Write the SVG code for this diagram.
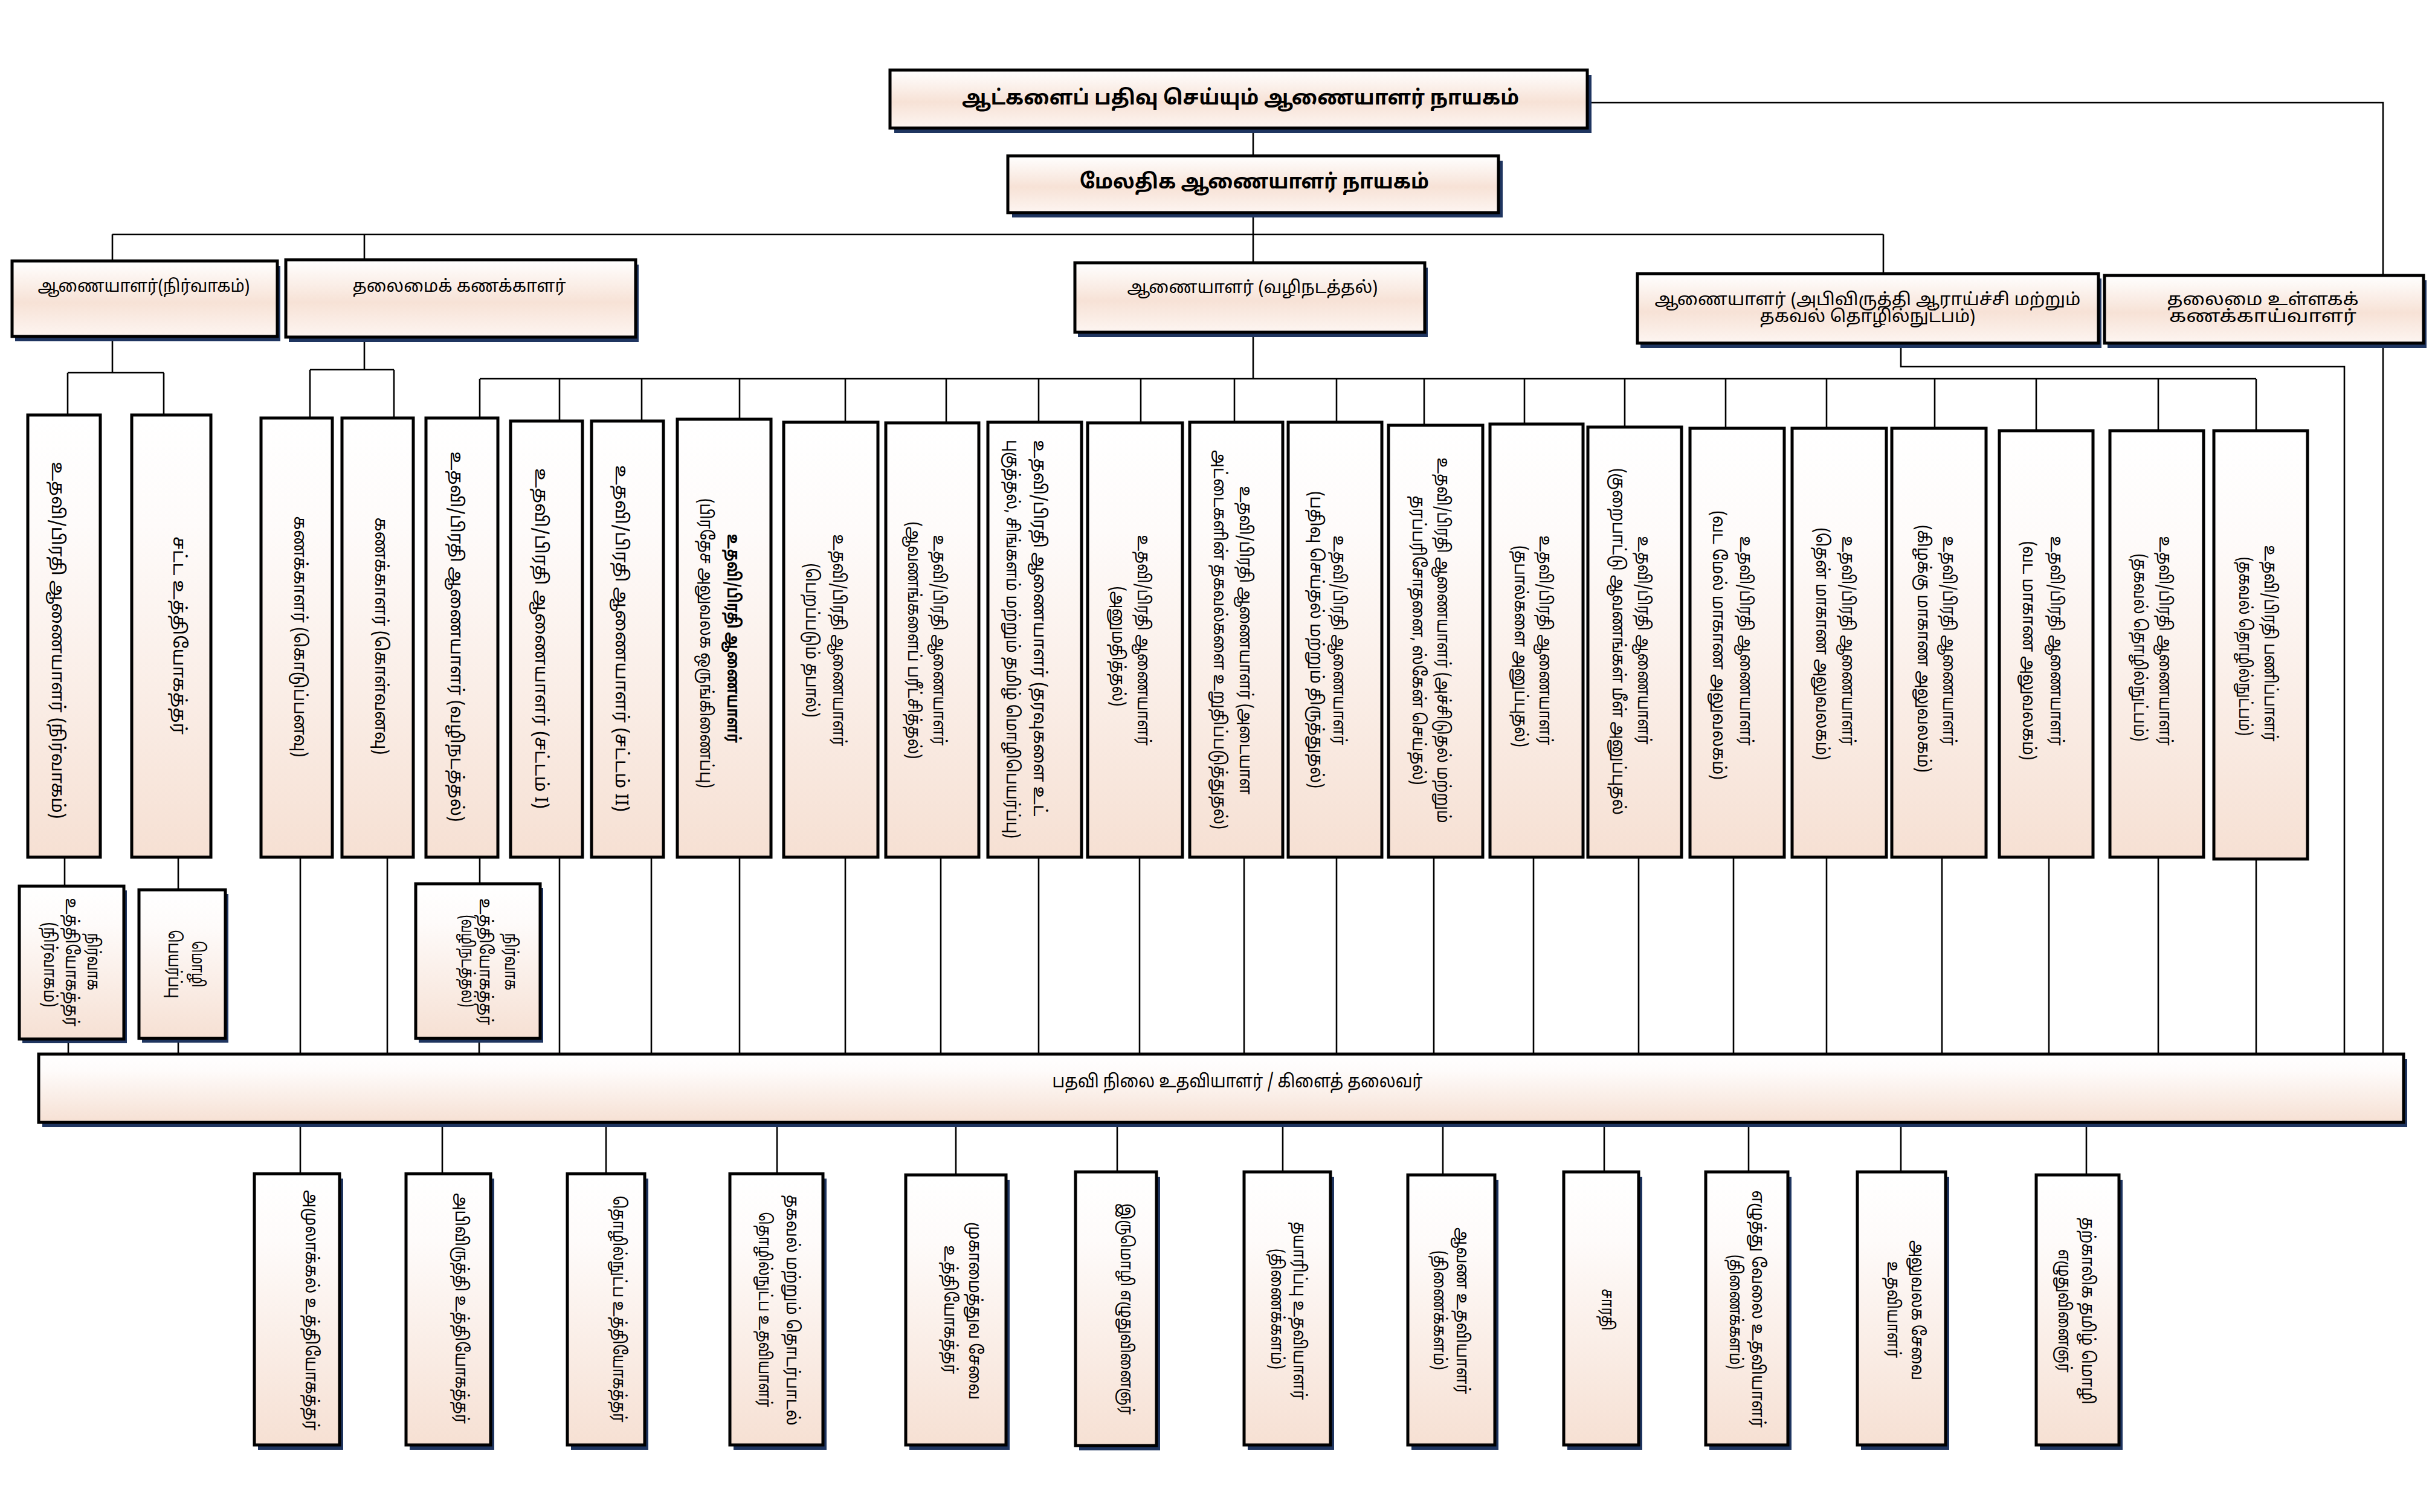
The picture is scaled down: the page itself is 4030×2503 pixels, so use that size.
<svg xmlns="http://www.w3.org/2000/svg" width="4030" height="2503" viewBox="0 0 4030 2503">
<style>
.bx{stroke:#000;stroke-width:5}
.sh{fill:#1f3560}
.ln{stroke:#000;stroke-width:2.6;fill:none}
text{font-family:"Noto Sans Tamil","Noto Serif Tamil","Noto Sans",sans-serif;fill:#000}
.th{font-size:34px;font-weight:bold;text-anchor:middle}
.tr{font-size:28px;text-anchor:middle}
.tv{font-size:29px;text-anchor:middle}
.tb{font-size:30px;text-anchor:middle}
</style>
<defs>
<linearGradient id="gH" x1="0" y1="0" x2="0" y2="1">
<stop offset="0" stop-color="#ffffff"/><stop offset="0.55" stop-color="#f7e2d6"/><stop offset="1" stop-color="#fdf5f1"/>
</linearGradient>
<linearGradient id="gV" x1="0" y1="0" x2="0" y2="1">
<stop offset="0" stop-color="#ffffff"/><stop offset="0.25" stop-color="#fefbfa"/><stop offset="1" stop-color="#f6e0d3"/>
</linearGradient>
</defs>
<rect width="4030" height="2503" fill="#fff"/>

<g id="connectors">
<path class="ln" d="M2627,170 H3944 V1745"/>
<path class="ln" d="M2074,212 V258 M2074,352 V435"/>
<path class="ln" d="M186,388 H3117 M186,388 V432 M603,388 V430 M3117,388 V453"/>
<path class="ln" d="M186,557 V617 M112,617 H271 M112,617 V687 M271,617 V687"/>
<path class="ln" d="M603,558 V612 M513,612 H652 M513,612 V692 M652,612 V692"/>
<path class="ln" d="M2074,550 V627 M794,627 H3734"/>
<path class="ln" d="M794,627V692 M926,627V697 M1062,627V697 M1224,627V694 M1399,627V699 M1566,627V700 M1719,627V699 M1888,627V700 M2043,627V699 M2212,627V699 M2357,627V704 M2523,627V702 M2689,627V707 M2856,627V709 M3023,627V709 M3202,627V709 M3370,627V713 M3572,627V713 M3734,627V713"/>
<path class="ln" d="M3146,568 V607 H3880 V1745"/>
<path class="ln" d="M107,1419 V1467 M113,1720 V1745 M295,1419 V1473 M295,1719 V1745 M497,1419 V1745 M641,1419 V1745 M794,1419 V1463 M793,1719 V1745"/>
<path class="ln" d="M926,1419V1745 M1078,1419V1745 M1224,1419V1745 M1399,1419V1745 M1557,1419V1745 M1719,1419V1745 M1886,1419V1745 M2059,1419V1745 M2212,1419V1745 M2373,1419V1745 M2538,1419V1745 M2712,1419V1745 M2869,1419V1745 M3023,1419V1745 M3214,1419V1745 M3391,1419V1745 M3572,1419V1745 M3734,1422V1745"/>
<path class="ln" d="M497,1858V1943 M732,1858V1943 M1003,1858V1943 M1286,1858V1943 M1582,1858V1945 M1849,1858V1940 M2123,1858V1940 M2388,1858V1945 M2655,1858V1940 M2894,1858V1940 M3146,1858V1940 M3453,1858V1945"/>
</g>

<g id="n-top">
<rect class="sh" x="1480" y="124" width="1154" height="96"/>
<rect class="bx" x="1473" y="116" width="1154" height="96" fill="url(#gH)"/>
<text class="th" x="2053" y="173" textLength="922" lengthAdjust="spacingAndGlyphs">ஆட்களைப் பதிவு செய்யும் ஆணையாளர் நாயகம்</text>
</g>
<g id="n-additional">
<rect class="sh" x="1675" y="266" width="812" height="94"/>
<rect class="bx" x="1668" y="258" width="812" height="94" fill="url(#gH)"/>
<text class="th" x="2076" y="312" textLength="578" lengthAdjust="spacingAndGlyphs">மேலதிக ஆணையாளர் நாயகம்</text>
</g>

<g id="n-admin">
<rect class="sh" x="25" y="440" width="439" height="125"/>
<rect class="bx" x="20" y="432" width="439" height="125" fill="url(#gH)"/>
<text class="tr" x="238" y="483" textLength="351" lengthAdjust="spacingAndGlyphs">ஆணையாளர்(நிர்வாகம்)</text>
</g>
<g id="n-chief-accountant">
<rect class="sh" x="478" y="438" width="579" height="128"/>
<rect class="bx" x="473" y="430" width="579" height="128" fill="url(#gH)"/>
<text class="tr" x="760" y="483" textLength="353" lengthAdjust="spacingAndGlyphs">தலைமைக் கணக்காளர்</text>
</g>
<g id="n-operations">
<rect class="sh" x="1784" y="443" width="579" height="115"/>
<rect class="bx" x="1779" y="435" width="579" height="115" fill="url(#gH)"/>
<text class="tr" x="2073" y="485" textLength="415" lengthAdjust="spacingAndGlyphs">ஆணையாளர் (வழிநடத்தல்)</text>
</g>
<g id="n-development">
<rect class="sh" x="2715" y="461" width="763" height="115"/>
<rect class="bx" x="2710" y="453" width="763" height="115" fill="url(#gH)"/>
<text class="tr" x="3091" y="505" textLength="705" lengthAdjust="spacingAndGlyphs">ஆணையாளர் (அபிவிருத்தி ஆராய்ச்சி மற்றும்</text>
<text class="tr" x="3091" y="533" textLength="357" lengthAdjust="spacingAndGlyphs">தகவல் தொழில்நுட்பம்)</text>
</g>
<g id="n-internal-audit">
<rect class="sh" x="3488" y="464" width="528" height="112"/>
<rect class="bx" x="3483" y="456" width="528" height="112" fill="url(#gH)"/>
<text class="tr" x="3745" y="505" textLength="317" lengthAdjust="spacingAndGlyphs">தலைமை உள்ளகக்</text>
<text class="tr" x="3745" y="533" textLength="310" lengthAdjust="spacingAndGlyphs">கணக்காய்வாளர்</text>
</g>

<g id="n-a1"><rect class="bx" x="46" y="687" width="120" height="732" fill="url(#gV)"/>
<text class="tv" transform="translate(86,1060) rotate(90)" textLength="591" lengthAdjust="spacingAndGlyphs">உதவி/பிரதி ஆணையாளர் (நிர்வாகம்)</text></g>
<g id="n-a2"><rect class="bx" x="218" y="687" width="131" height="732" fill="url(#gV)"/>
<text class="tv" transform="translate(287,1052) rotate(90)" textLength="328" lengthAdjust="spacingAndGlyphs">சட்ட உத்தியோகத்தர்</text></g>
<g id="n-b1"><rect class="bx" x="432" y="692" width="118" height="727" fill="url(#gV)"/>
<text class="tv" transform="translate(487,1054) rotate(90)" textLength="399" lengthAdjust="spacingAndGlyphs">கணக்காளர் (கொடுப்பனவு)</text></g>
<g id="n-b2"><rect class="bx" x="566" y="692" width="118" height="727" fill="url(#gV)"/>
<text class="tv" transform="translate(621,1053) rotate(90)" textLength="393" lengthAdjust="spacingAndGlyphs">கணக்காளர் (கொள்வனவு)</text></g>
<g id="n-c1"><rect class="bx" x="705" y="692" width="119" height="727" fill="url(#gV)"/>
<text class="tv" transform="translate(746,1054) rotate(90)" textLength="613" lengthAdjust="spacingAndGlyphs">உதவி/பிரதி ஆணையாளர் (வழிநடத்தல்)</text></g>
<g id="n-c2"><rect class="bx" x="845" y="697" width="119" height="722" fill="url(#gV)"/>
<text class="tv" transform="translate(886,1057) rotate(90)" textLength="564" lengthAdjust="spacingAndGlyphs">உதவி/பிரதி ஆணையாளர் (சட்டம் I)</text></g>
<g id="n-c3"><rect class="bx" x="979" y="697" width="119" height="722" fill="url(#gV)"/>
<text class="tv" transform="translate(1019,1057) rotate(90)" textLength="574" lengthAdjust="spacingAndGlyphs">உதவி/பிரதி ஆணையாளர் (சட்டம் II)</text></g>
<g id="n-c4"><rect class="bx" x="1121" y="694" width="155" height="725" fill="url(#gV)"/>
<text class="tv" font-weight="bold" transform="translate(1204,1057) rotate(90)" textLength="346" lengthAdjust="spacingAndGlyphs">உதவி/பிரதி ஆணையாளர்</text>
<text class="tv" transform="translate(1159,1065) rotate(90)" textLength="480" lengthAdjust="spacingAndGlyphs">(பிரதேச அலுவலக ஒருங்கிணைப்பு)</text></g>
<g id="n-c5"><rect class="bx" x="1297" y="699" width="156" height="720" fill="url(#gV)"/>
<text class="tv" transform="translate(1379,1060) rotate(90)" textLength="351" lengthAdjust="spacingAndGlyphs">உதவி/பிரதி ஆணையாளர்</text>
<text class="tv" transform="translate(1334,1060) rotate(90)" textLength="255" lengthAdjust="spacingAndGlyphs">(பெறப்படும் தபால்)</text></g>
<g id="n-c6"><rect class="bx" x="1466" y="700" width="154" height="719" fill="url(#gV)"/>
<text class="tv" transform="translate(1545,1060) rotate(90)" textLength="349" lengthAdjust="spacingAndGlyphs">உதவி/பிரதி ஆணையாளர்</text>
<text class="tv" transform="translate(1503,1060) rotate(90)" textLength="393" lengthAdjust="spacingAndGlyphs">(ஆவணங்களைப் பரீட்சித்தல்)</text></g>
<g id="n-c7"><rect class="bx" x="1635" y="699" width="155" height="720" fill="url(#gV)"/>
<text class="tv" transform="translate(1711,1040) rotate(90)" textLength="623" lengthAdjust="spacingAndGlyphs">உதவி/பிரதி ஆணையாளர் (தரவுகளை உட்</text>
<text class="tv" transform="translate(1666,1058) rotate(90)" textLength="660" lengthAdjust="spacingAndGlyphs">புகுத்தல், சிங்களம் மற்றும் தமிழ் மொழிபெயர்ப்பு)</text></g>
<g id="n-c8"><rect class="bx" x="1800" y="700" width="157" height="719" fill="url(#gV)"/>
<text class="tv" transform="translate(1883,1060) rotate(90)" textLength="349" lengthAdjust="spacingAndGlyphs">உதவி/பிரதி ஆணையாளர்</text>
<text class="tv" transform="translate(1841,1070) rotate(90)" textLength="199" lengthAdjust="spacingAndGlyphs">(அனுமதித்தல்)</text></g>
<g id="n-c9"><rect class="bx" x="1969" y="699" width="154" height="720" fill="url(#gV)"/>
<text class="tv" transform="translate(2052,1060) rotate(90)" textLength="511" lengthAdjust="spacingAndGlyphs">உதவி/பிரதி ஆணையாளர் (அடையாள</text>
<text class="tv" transform="translate(2009,1059) rotate(90)" textLength="628" lengthAdjust="spacingAndGlyphs">அட்டைகளின் தகவல்களை உறுதிப்படுத்துதல்)</text></g>
<g id="n-c10"><rect class="bx" x="2132" y="699" width="155" height="720" fill="url(#gV)"/>
<text class="tv" transform="translate(2207,1060) rotate(90)" textLength="347" lengthAdjust="spacingAndGlyphs">உதவி/பிரதி ஆணையாளர்</text>
<text class="tv" transform="translate(2169,1059) rotate(90)" textLength="492" lengthAdjust="spacingAndGlyphs">(பதிவு செய்தல் மற்றும் திருத்துதல்)</text></g>
<g id="n-c11"><rect class="bx" x="2298" y="704" width="156" height="715" fill="url(#gV)"/>
<text class="tv" transform="translate(2379,1060) rotate(90)" textLength="605" lengthAdjust="spacingAndGlyphs">உதவி/பிரதி ஆணையாளர் (அச்சிடுதல் மற்றும்</text>
<text class="tv" transform="translate(2338,1060) rotate(90)" textLength="479" lengthAdjust="spacingAndGlyphs">தரப்பரிசோதனை, ஸ்கேன் செய்தல்)</text></g>
<g id="n-c12"><rect class="bx" x="2466" y="702" width="154" height="717" fill="url(#gV)"/>
<text class="tv" transform="translate(2548,1060) rotate(90)" textLength="347" lengthAdjust="spacingAndGlyphs">உதவி/பிரதி ஆணையாளர்</text>
<text class="tv" transform="translate(2507,1070) rotate(90)" textLength="334" lengthAdjust="spacingAndGlyphs">(தபால்களை அனுப்புதல்)</text></g>
<g id="n-c13"><rect class="bx" x="2628" y="707" width="155" height="712" fill="url(#gV)"/>
<text class="tv" transform="translate(2711,1060) rotate(90)" textLength="345" lengthAdjust="spacingAndGlyphs">உதவி/பிரதி ஆணையாளர்</text>
<text class="tv" transform="translate(2669,1062) rotate(90)" textLength="574" lengthAdjust="spacingAndGlyphs">(குறைபாட்டு ஆவணங்கள் மீள் அனுப்புதல்</text></g>
<g id="n-c14"><rect class="bx" x="2797" y="709" width="156" height="710" fill="url(#gV)"/>
<text class="tv" transform="translate(2880,1061) rotate(90)" textLength="347" lengthAdjust="spacingAndGlyphs">உதவி/பிரதி ஆணையாளர்</text>
<text class="tv" transform="translate(2835,1068) rotate(90)" textLength="446" lengthAdjust="spacingAndGlyphs">(வட மேல் மாகாண அலுவலகம்)</text></g>
<g id="n-c15"><rect class="bx" x="2966" y="709" width="156" height="710" fill="url(#gV)"/>
<text class="tv" transform="translate(3049,1061) rotate(90)" textLength="347" lengthAdjust="spacingAndGlyphs">உதவி/பிரதி ஆணையாளர்</text>
<text class="tv" transform="translate(3006,1066) rotate(90)" textLength="385" lengthAdjust="spacingAndGlyphs">(தென் மாகாண அலுவலகம்)</text></g>
<g id="n-c16"><rect class="bx" x="3131" y="709" width="156" height="710" fill="url(#gV)"/>
<text class="tv" transform="translate(3216,1061) rotate(90)" textLength="347" lengthAdjust="spacingAndGlyphs">உதவி/பிரதி ஆணையாளர்</text>
<text class="tv" transform="translate(3174,1074) rotate(90)" textLength="410" lengthAdjust="spacingAndGlyphs">(கிழக்கு மாகாண அலுவலகம்)</text></g>
<g id="n-c17"><rect class="bx" x="3309" y="713" width="155" height="706" fill="url(#gV)"/>
<text class="tv" transform="translate(3394,1061) rotate(90)" textLength="347" lengthAdjust="spacingAndGlyphs">உதவி/பிரதி ஆணையாளர்</text>
<text class="tv" transform="translate(3348,1077) rotate(90)" textLength="363" lengthAdjust="spacingAndGlyphs">(வட மாகாண அலுவலகம்)</text></g>
<g id="n-c18"><rect class="bx" x="3492" y="713" width="155" height="706" fill="url(#gV)"/>
<text class="tv" transform="translate(3574,1061) rotate(90)" textLength="347" lengthAdjust="spacingAndGlyphs">உதவி/பிரதி ஆணையாளர்</text>
<text class="tv" transform="translate(3532,1072) rotate(90)" textLength="311" lengthAdjust="spacingAndGlyphs">(தகவல் தொழில்நுட்பம்)</text></g>
<g id="n-c19"><rect class="bx" x="3664" y="713" width="155" height="709" fill="url(#gV)"/>
<text class="tv" transform="translate(3748,1065) rotate(90)" textLength="325" lengthAdjust="spacingAndGlyphs">உதவி/பிரதி பணிப்பாளர்</text>
<text class="tv" transform="translate(3706,1070) rotate(90)" textLength="296" lengthAdjust="spacingAndGlyphs">(தகவல் தொழில்நுட்பம்)</text></g>

<g id="n-s1"><rect class="sh" x="37" y="1474" width="173" height="253"/>
<rect class="bx" x="32" y="1467" width="173" height="253" fill="url(#gV)"/>
<text class="tv" transform="translate(145,1592) rotate(90)" textLength="95" lengthAdjust="spacingAndGlyphs">நிர்வாக</text>
<text class="tv" transform="translate(109,1593) rotate(90)" textLength="213" lengthAdjust="spacingAndGlyphs">உத்தியோகத்தர்</text>
<text class="tv" transform="translate(73,1597) rotate(90)" textLength="141" lengthAdjust="spacingAndGlyphs">(நிர்வாகம்)</text></g>
<g id="n-s2"><rect class="sh" x="235" y="1480" width="143" height="246"/>
<rect class="bx" x="230" y="1473" width="143" height="246" fill="url(#gV)"/>
<text class="tv" transform="translate(318,1596) rotate(90)" textLength="77" lengthAdjust="spacingAndGlyphs">மொழி</text>
<text class="tv" transform="translate(279,1596) rotate(90)" textLength="113" lengthAdjust="spacingAndGlyphs">பெயர்ப்பு</text></g>
<g id="n-s3"><rect class="sh" x="693" y="1470" width="206" height="256"/>
<rect class="bx" x="688" y="1463" width="206" height="256" fill="url(#gV)"/>
<text class="tv" transform="translate(836,1592) rotate(90)" textLength="95" lengthAdjust="spacingAndGlyphs">நிர்வாக</text>
<text class="tv" transform="translate(794,1592) rotate(90)" textLength="210" lengthAdjust="spacingAndGlyphs">உத்தியோகத்தர்</text>
<text class="tv" transform="translate(764,1591) rotate(90)" textLength="153" lengthAdjust="spacingAndGlyphs">(வழிநடத்தல்)</text></g>

<g id="n-staff-assistant"><rect class="sh" x="70" y="1753" width="3914" height="113"/>
<rect class="bx" x="64" y="1745" width="3914" height="113" fill="url(#gV)"/>
<text class="tb" x="2048" y="1800" textLength="613" lengthAdjust="spacingAndGlyphs">பதவி நிலை உதவியாளர் / கிளைத் தலைவர்</text></g>

<g id="n-p1"><rect class="sh" x="427" y="1951" width="141" height="449"/>
<rect class="bx" x="421" y="1943" width="141" height="449" fill="url(#gV)"/>
<text class="tv" transform="translate(506,2169) rotate(90)" textLength="398" lengthAdjust="spacingAndGlyphs">அமுலாக்கல் உத்தியோகத்தர்</text></g>
<g id="n-p2"><rect class="sh" x="678" y="1951" width="140" height="449"/>
<rect class="bx" x="672" y="1943" width="140" height="449" fill="url(#gV)"/>
<text class="tv" transform="translate(754,2166) rotate(90)" textLength="382" lengthAdjust="spacingAndGlyphs">அபிவிருத்தி உத்தியோகத்தர்</text></g>
<g id="n-p3"><rect class="sh" x="945" y="1951" width="128" height="449"/>
<rect class="bx" x="939" y="1943" width="128" height="449" fill="url(#gV)"/>
<text class="tv" transform="translate(1015,2167) rotate(90)" textLength="375" lengthAdjust="spacingAndGlyphs">தொழில்நுட்ப உத்தியோகத்தர்</text></g>
<g id="n-p4"><rect class="sh" x="1214" y="1951" width="154" height="449"/>
<rect class="bx" x="1208" y="1943" width="154" height="449" fill="url(#gV)"/>
<text class="tv" transform="translate(1302,2169) rotate(90)" textLength="382" lengthAdjust="spacingAndGlyphs">தகவல் மற்றும் தொடர்பாடல்</text>
<text class="tv" transform="translate(1256,2168) rotate(90)" textLength="323" lengthAdjust="spacingAndGlyphs">தொழில்நுட்ப உதவியாளர்</text></g>
<g id="n-p5"><rect class="sh" x="1505" y="1953" width="166" height="447"/>
<rect class="bx" x="1499" y="1945" width="166" height="447" fill="url(#gV)"/>
<text class="tv" transform="translate(1604,2170) rotate(90)" textLength="294" lengthAdjust="spacingAndGlyphs">முகாமைத்துவ சேவை</text>
<text class="tv" transform="translate(1563,2168) rotate(90)" textLength="213" lengthAdjust="spacingAndGlyphs">உத்தியோகத்தர்</text></g>
<g id="n-p6"><rect class="sh" x="1786" y="1948" width="134" height="453"/>
<rect class="bx" x="1780" y="1940" width="134" height="453" fill="url(#gV)"/>
<text class="tv" transform="translate(1855,2167) rotate(90)" textLength="350" lengthAdjust="spacingAndGlyphs">இருமொழி எழுதுவினைஞர்</text></g>
<g id="n-p7"><rect class="sh" x="2065" y="1948" width="143" height="452"/>
<rect class="bx" x="2059" y="1940" width="143" height="452" fill="url(#gV)"/>
<text class="tv" transform="translate(2141,2170) rotate(90)" textLength="295" lengthAdjust="spacingAndGlyphs">தயாரிப்பு உதவியாளர்</text>
<text class="tv" transform="translate(2104,2167) rotate(90)" textLength="200" lengthAdjust="spacingAndGlyphs">(திணைக்களம்)</text></g>
<g id="n-p8"><rect class="sh" x="2336" y="1953" width="144" height="447"/>
<rect class="bx" x="2330" y="1945" width="144" height="447" fill="url(#gV)"/>
<text class="tv" transform="translate(2411,2170) rotate(90)" textLength="276" lengthAdjust="spacingAndGlyphs">ஆவண உதவியாளர்</text>
<text class="tv" transform="translate(2373,2169) rotate(90)" textLength="198" lengthAdjust="spacingAndGlyphs">(திணைக்களம்)</text></g>
<g id="n-p9"><rect class="sh" x="2594" y="1948" width="124" height="452"/>
<rect class="bx" x="2588" y="1940" width="124" height="452" fill="url(#gV)"/>
<text class="tv" transform="translate(2651,2168) rotate(90)" textLength="69" lengthAdjust="spacingAndGlyphs">சாரதி</text></g>
<g id="n-p10"><rect class="sh" x="2829" y="1948" width="136" height="452"/>
<rect class="bx" x="2823" y="1940" width="136" height="452" fill="url(#gV)"/>
<text class="tv" transform="translate(2900,2167) rotate(90)" textLength="393" lengthAdjust="spacingAndGlyphs">எழுத்து வேலை உதவியாளர்</text>
<text class="tv" transform="translate(2863,2172) rotate(90)" textLength="190" lengthAdjust="spacingAndGlyphs">(திணைக்களம்)</text></g>
<g id="n-p11"><rect class="sh" x="3080" y="1948" width="146" height="452"/>
<rect class="bx" x="3074" y="1940" width="146" height="452" fill="url(#gV)"/>
<text class="tv" transform="translate(3164,2169) rotate(90)" textLength="232" lengthAdjust="spacingAndGlyphs">அலுவலக சேவை</text>
<text class="tv" transform="translate(3124,2168) rotate(90)" textLength="160" lengthAdjust="spacingAndGlyphs">உதவியாளர்</text></g>
<g id="n-p12"><rect class="sh" x="3376" y="1953" width="137" height="447"/>
<rect class="bx" x="3370" y="1945" width="137" height="447" fill="url(#gV)"/>
<text class="tv" transform="translate(3446,2170) rotate(90)" textLength="310" lengthAdjust="spacingAndGlyphs">தற்காலிக தமிழ் மொழி</text>
<text class="tv" transform="translate(3407,2170) rotate(90)" textLength="204" lengthAdjust="spacingAndGlyphs">எழுதுவினைஞர்</text></g>
</svg>
